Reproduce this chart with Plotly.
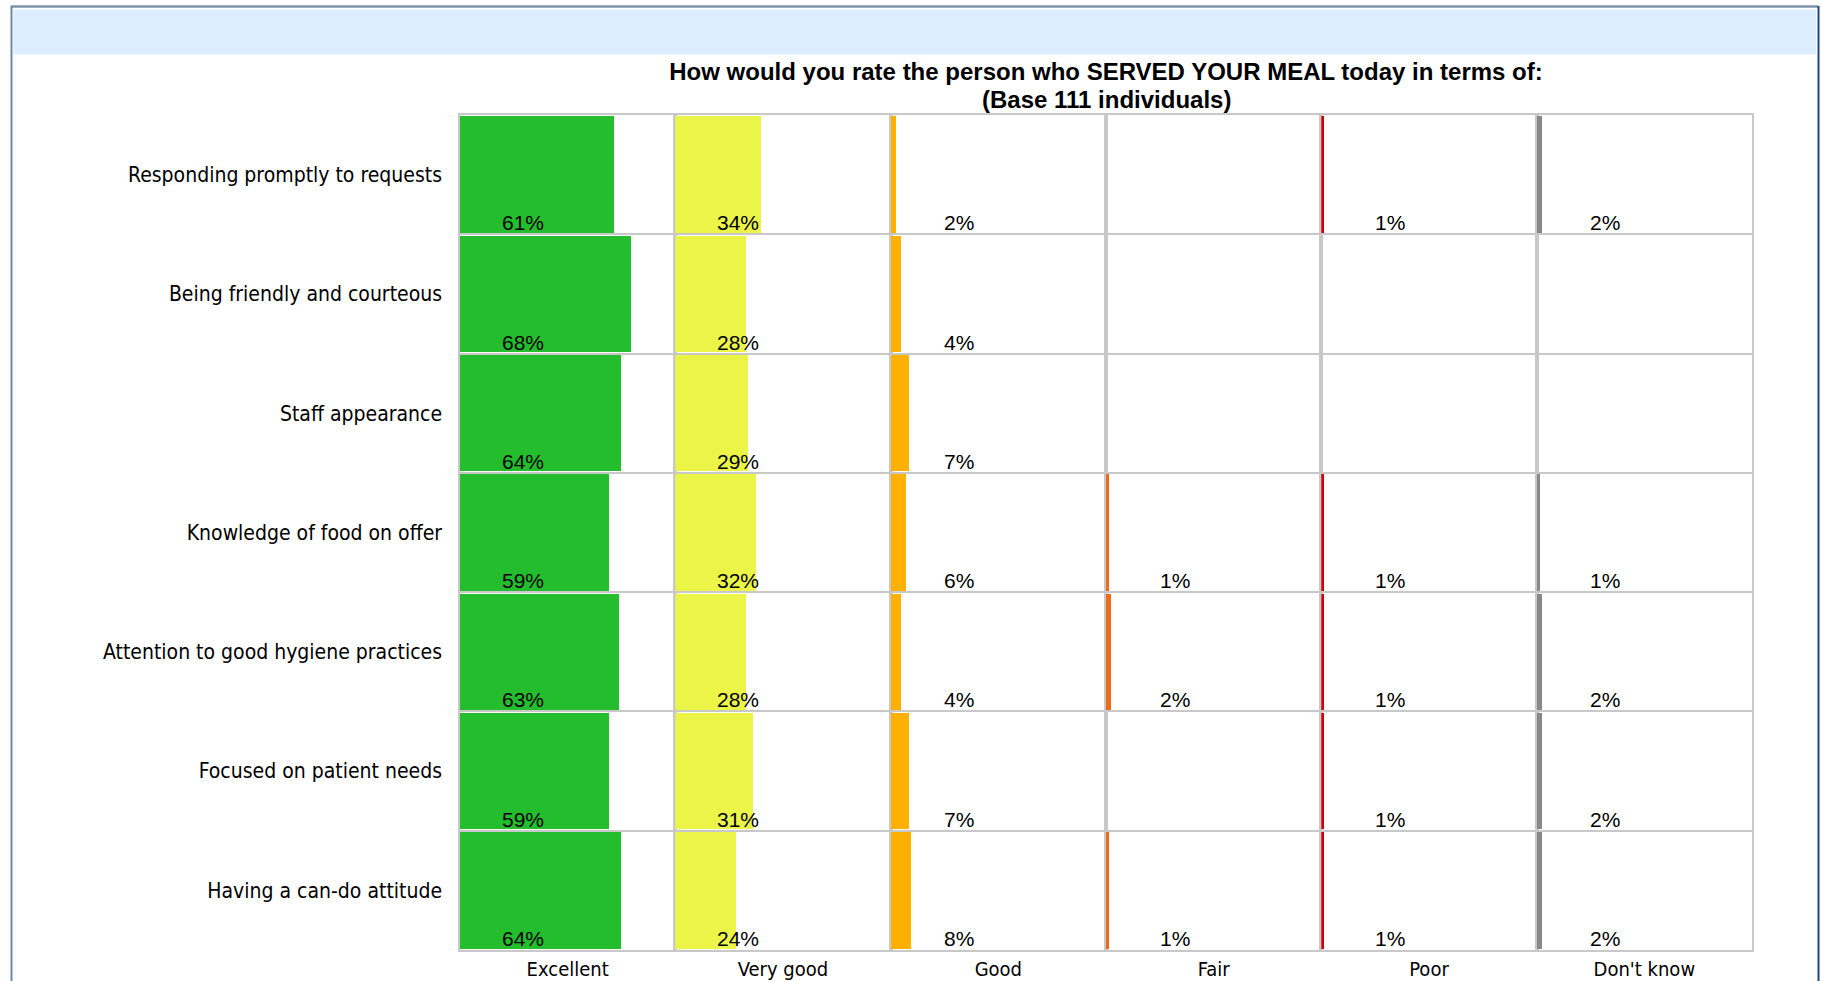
import plotly.graph_objects as go
from plotly.subplots import make_subplots

# ---------------- data ----------------
categories = [
    "Responding promptly to requests",
    "Being friendly and courteous",
    "Staff appearance",
    "Knowledge of food on offer",
    "Attention to good hygiene practices",
    "Focused on patient needs",
    "Having a can-do attitude",
]
ratings = ["Excellent", "Very good", "Good", "Fair", "Poor", "Don't know"]
excellent = [61, 68, 64, 59, 63, 59, 64]
very_good = [34, 28, 29, 32, 28, 31, 24]
good = [2, 4, 7, 6, 4, 7, 8]
fair = [0, 0, 0, 1, 2, 0, 1]
poor = [1, 0, 0, 1, 1, 1, 1]
dont_know = [2, 0, 0, 1, 2, 2, 2]
series = [excellent, very_good, good, fair, poor, dont_know]
colors = ["#24bd2e", "#eaf548", "#ffb000", "#f06a1c", "#d40000", "#888888"]

title_line1 = "How would you rate the person who SERVED YOUR MEAL today in terms of:"
title_line2 = "(Base 111 individuals)"

# ---------------- layout constants ----------------
W, H = 1822, 981
L, R, T, B = 460, 1752, 115, 950
XMAX = 85.4
LABEL_X = 34.0
GRID = "#c8c8c8"
CAT_FONT = "'DejaVu Sans Condensed', 'DejaVu Sans', sans-serif"
NUM_FONT = "'Liberation Sans', Arial, sans-serif"


def px(x):
    return (x - L) / (R - L)


def py(y):
    return (B - y) / (B - T)


n = len(categories)
ypos = list(range(n))

fig = make_subplots(rows=1, cols=len(ratings), shared_yaxes=True, horizontal_spacing=0)

for j, (vals, col) in enumerate(zip(series, colors)):
    fig.add_trace(
        go.Bar(
            x=vals, y=ypos, orientation="h", width=0.975,
            marker=dict(color=col, line=dict(width=0)),
            showlegend=False, name=ratings[j],
        ),
        row=1, col=j + 1,
    )
    xa = "x" if j == 0 else f"x{j + 1}"
    for i, v in enumerate(vals):
        if v > 0:
            fig.add_annotation(
                xref=xa, yref="y", x=LABEL_X, y=i + 0.5,
                xanchor="right", yanchor="bottom", yshift=-2,
                text=f"{v}%", showarrow=False,
                font=dict(family=NUM_FONT, size=21, color="#000000"),
            )
    fig.update_xaxes(
        row=1, col=j + 1,
        range=[0, XMAX], showgrid=False, zeroline=False,
        showline=True, mirror=True, linecolor=GRID, linewidth=1.5,
        tickmode="array", tickvals=[XMAX / 2], ticktext=[ratings[j]],
        ticks="", tickfont=dict(family=CAT_FONT, size=20, color="#000000"),
        automargin=False, fixedrange=True,
    )

fig.update_yaxes(
    range=[n - 0.5, -0.5], showgrid=False, zeroline=False,
    showline=True, mirror=True, linecolor=GRID, linewidth=1.5,
    tickmode="array", tickvals=ypos, ticktext=categories,
    ticks="outside", ticklen=12, tickcolor="rgba(0,0,0,0)",
    tickfont=dict(family=CAT_FONT, size=21, color="#000000"),
    minor=dict(tickmode="array", tickvals=[i + 0.5 for i in ypos[:-1]],
               showgrid=True, gridcolor=GRID, gridwidth=1.5, ticks=""),
    automargin=False, fixedrange=True,
)

# page frame decoration
shapes = [
    dict(type="rect", xref="paper", yref="paper",
         x0=px(13.5), x1=px(1816), y0=py(54.5), y1=py(9.5),
         fillcolor="#ddedff", line=dict(width=0), layer="below"),
    dict(type="line", xref="paper", yref="paper",
         x0=px(11), x1=px(1818), y0=py(6.5), y1=py(6.5),
         line=dict(color="#7f94ab", width=2.5)),
    dict(type="line", xref="paper", yref="paper",
         x0=px(11.5), x1=px(11.5), y0=py(6), y1=py(985),
         line=dict(color="#6f88a5", width=2)),
    dict(type="line", xref="paper", yref="paper",
         x0=px(1818.5), x1=px(1818.5), y0=py(6), y1=py(985),
         line=dict(color="#1c4587", width=2)),
]

fig.add_annotation(
    xref="paper", yref="paper", x=0.5, y=py(100), xanchor="center", yanchor="middle",
    text=title_line2, showarrow=False,
    font=dict(family=NUM_FONT, size=24, color="#000000", weight="bold"),
)

fig.update_layout(
    width=W, height=H, autosize=False,
    margin=dict(l=L, r=W - R, t=T, b=H - B, pad=0),
    paper_bgcolor="#ffffff", plot_bgcolor="#ffffff",
    bargap=0, showlegend=False,
    shapes=shapes,
    title=dict(
        text=title_line1, x=0.5, xref="paper", xanchor="center",
        y=1 - 72 / H, yref="container", yanchor="middle",
        font=dict(family=NUM_FONT, size=24, color="#000000", weight="bold"),
        automargin=False,
    ),
)

fig.write_html("out.html", post_script="document.body.style.margin='0';",
               config={"displayModeBar": False, "responsive": False})
